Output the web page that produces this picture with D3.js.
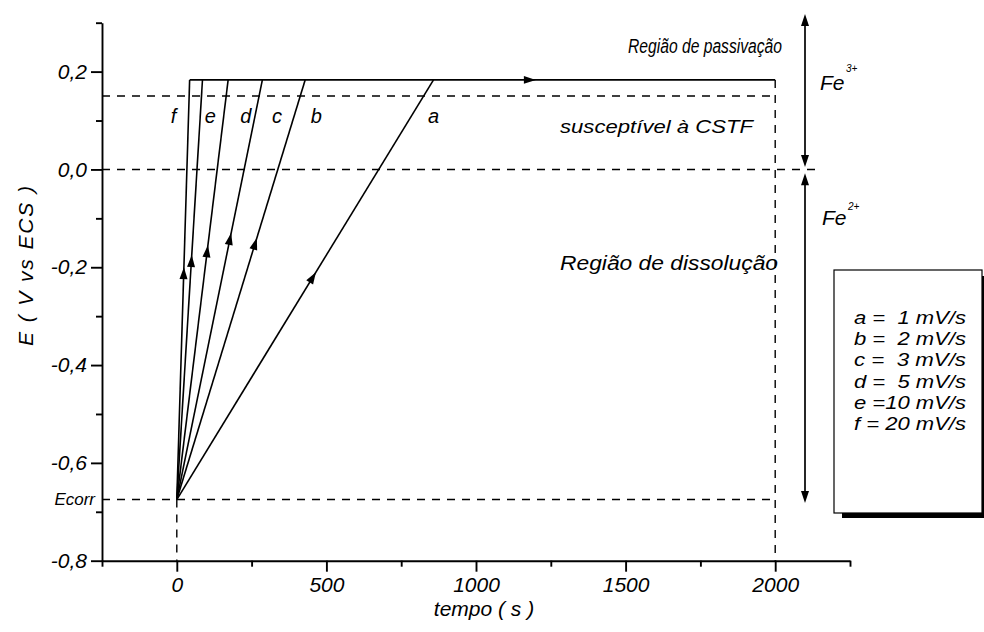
<!DOCTYPE html>
<html>
<head>
<meta charset="utf-8">
<script src="https://cdn.jsdelivr.net/npm/d3@7"></script>
<style>
  body { margin: 0; background: #fff; }
  svg { display: block; }
  text { font-family: "Liberation Sans", Arial, sans-serif; font-style: italic; fill: #000; }
</style>
</head>
<body>
<svg id="chart" width="984" height="632"></svg>
<script>
// ---- data ----
const seriesNames = ["a", "b", "c", "d", "e", "f"];
const scanRates = [1, 2, 3, 5, 10, 20];              // mV/s
const arrowPotentials = [-0.21, -0.14, -0.13, -0.155, -0.175, -0.2]; // V, where each ramp carries its arrow
const Ecorr = -0.675;       // V vs ECS, corrosion potential
const Epass = 0.183;        // V, potential held after the ramp
const Ecstf = 0.15;         // V, upper limit of the CSTF-susceptible band
const Efe = 0.0;            // V, Fe2+/Fe3+ boundary
const holdEnd = 2000;       // s
const holdArrowTime = 1180; // s, arrow on the hold segment
const xTickValues = [0, 500, 1000, 1500, 2000];
const xMinorTicks = [-250, 250, 750, 1250, 1750, 2250];
const yTickValues = [0.2, 0.0, -0.2, -0.4, -0.6, -0.8];
const yMinorTicks = [0.3, 0.1, -0.1, -0.3, -0.5, -0.7];
const legendLines = ["a =  1 mV/s", "b =  2 mV/s", "c =  3 mV/s", "d =  5 mV/s", "e =10 mV/s", "f = 20 mV/s"];

// ---- scales ----
const svg = d3.select("#chart");
const x = d3.scaleLinear().domain([-250, 2250]).range([102, 850]);
const y = d3.scaleLinear().domain([-0.8, 0.3]).range([560.7, 22.7]);

const fmtY = d => d.toFixed(1).replace(".", ",");

function txt(str, px, py, size, opt = {}) {
  const t = svg.append("text").attr("x", px).attr("y", py)
    .style("font-size", size + "px").text(str);
  if (opt.anchor) t.attr("text-anchor", opt.anchor);
  if (opt.width) t.attr("textLength", opt.width).attr("lengthAdjust", opt.adjust || "spacingAndGlyphs");
  if (opt.rotate) t.attr("transform", `rotate(${opt.rotate},${px},${py})`);
  return t;
}

// filled arrowhead pointing along the angle (radians), tip at (px,py)
function arrowHead(px, py, ang, len, half) {
  const bx = px - len * Math.cos(ang), by = py - len * Math.sin(ang);
  const nx = -Math.sin(ang) * half, ny = Math.cos(ang) * half;
  svg.append("path")
    .attr("d", `M${px},${py}L${bx + nx},${by + ny}L${bx - nx},${by - ny}Z`)
    .attr("fill", "#000");
}

// ---- dashed reference lines ----
const dash = "8,7";
const refs = svg.append("g").attr("stroke", "#000").attr("stroke-width", 1.4)
  .attr("stroke-dasharray", dash).attr("fill", "none");
refs.append("line").attr("x1", x(-250)).attr("x2", x(holdEnd)).attr("y1", y(Ecstf)).attr("y2", y(Ecstf));
refs.append("line").attr("x1", x(-250)).attr("x2", x(2155)).attr("y1", y(Efe)).attr("y2", y(Efe));
refs.append("line").attr("x1", x(-250)).attr("x2", x(holdEnd)).attr("y1", y(Ecorr)).attr("y2", y(Ecorr));
refs.append("line").attr("x1", x(0)).attr("x2", x(0)).attr("y1", y(Ecorr)).attr("y2", y(-0.8));
refs.append("line").attr("x1", x(holdEnd)).attr("x2", x(holdEnd)).attr("y1", y(Epass)).attr("y2", y(-0.8));

// ---- potential ramps ----
const ramps = svg.append("g").attr("stroke", "#000").attr("stroke-width", 1.6).attr("fill", "none");
const line = d3.line().x(d => x(d[0])).y(d => y(d[1]));
seriesNames.forEach((name, i) => {
  const tTop = (Epass - Ecorr) * 1000 / scanRates[i];
  ramps.append("path").attr("d", line([[0, Ecorr], [tTop, Epass]]));
  // direction arrow
  const ta = (arrowPotentials[i] - Ecorr) * 1000 / scanRates[i];
  const ang = Math.atan2(y(Epass) - y(Ecorr), x(tTop) - x(0));
  arrowHead(x(ta), y(arrowPotentials[i]), ang, 12, 4);
  // curve letter just beside its ramp
  const tl = (0.11 - Ecorr) * 1000 / scanRates[i];
  const off = name === "f" ? -15 : (name === "e" ? 10 : 22);
  txt(name, x(tl) + off, 123, 20, { anchor: "middle" });
});
// hold at Epass, starting from the fastest ramp
const tFast = (Epass - Ecorr) * 1000 / d3.max(scanRates);
ramps.append("path").attr("d", line([[tFast, Epass], [holdEnd, Epass]]));
arrowHead(x(holdArrowTime) + 6, y(Epass), 0, 12, 3.8);

// ---- axes ----
svg.append("g").attr("transform", `translate(${x(-250)},0)`)
  .call(d3.axisLeft(y).tickValues(yTickValues).tickSize(11).tickSizeOuter(0).tickPadding(4).tickFormat(fmtY));
svg.append("g").attr("transform", `translate(${x(-250)},0)`)
  .call(d3.axisLeft(y).tickValues(yMinorTicks).tickSize(6).tickSizeOuter(0).tickFormat(""))
  .select(".domain").remove();
svg.append("g").attr("transform", `translate(0,${y(-0.8)})`)
  .call(d3.axisBottom(x).tickValues(xTickValues).tickSize(11).tickSizeOuter(0).tickPadding(5).tickFormat(d3.format("d")));
svg.append("g").attr("transform", `translate(0,${y(-0.8)})`)
  .call(d3.axisBottom(x).tickValues(xMinorTicks).tickSize(6).tickSizeOuter(0).tickFormat(""))
  .select(".domain").remove();
svg.selectAll(".domain, .tick line").attr("stroke", "#000").attr("stroke-width", 1.9);
svg.selectAll(".tick text").attr("font-family", null).attr("fill", "#000")
  .style("font-size", "21px").style("font-style", "italic");

// ---- axis titles ----
txt("E ( V vs ECS )", 26, 266, 21, { anchor: "middle", rotate: -90, width: 160, adjust: "spacing" }).attr("dy", "0.35em");
txt("tempo ( s )", 484, 616, 21, { anchor: "middle" });
txt("Ecorr", 95, 505, 17, { anchor: "end" });

// ---- region annotations ----
txt("Região de passivação", 628, 53, 19.5, { width: 154 });
txt("susceptível à CSTF", 560, 133, 19, { width: 193 });
txt("Região de dissolução", 560, 270, 19.5, { width: 218 });

// ---- Fe3+ / Fe2+ double arrows ----
const xFe = 805;
const fe = svg.append("g").attr("stroke", "#000").attr("stroke-width", 1.7);
fe.append("line").attr("x1", xFe).attr("x2", xFe).attr("y1", y(0.318) + 6).attr("y2", y(Efe + 0.005) - 6);
fe.append("line").attr("x1", xFe).attr("x2", xFe).attr("y1", y(Efe - 0.008) + 6).attr("y2", y(Ecorr - 0.007) - 6);
arrowHead(xFe, y(0.318), -Math.PI / 2, 12, 4);
arrowHead(xFe, y(Efe + 0.005), Math.PI / 2, 12, 4);
arrowHead(xFe, y(Efe - 0.008), -Math.PI / 2, 12, 4);
arrowHead(xFe, y(Ecorr - 0.007), Math.PI / 2, 12, 4);
txt("Fe", 820, 90, 21);
txt("3+", 846, 72, 10);
txt("Fe", 822, 225, 21);
txt("2+", 848, 210, 10);

// ---- legend box with drop shadow ----
svg.append("rect").attr("x", 842).attr("y", 276).attr("width", 150).attr("height", 242).attr("fill", "#000");
svg.append("rect").attr("x", 834).attr("y", 270).attr("width", 148).attr("height", 243)
  .attr("fill", "#fff").attr("stroke", "#000").attr("stroke-width", 1.2);
legendLines.forEach((s, i) => {
  txt(s, 854, 324 + i * 21.2, 18, { width: 112 }).style("white-space", "pre");
});
</script>
</body>
</html>
